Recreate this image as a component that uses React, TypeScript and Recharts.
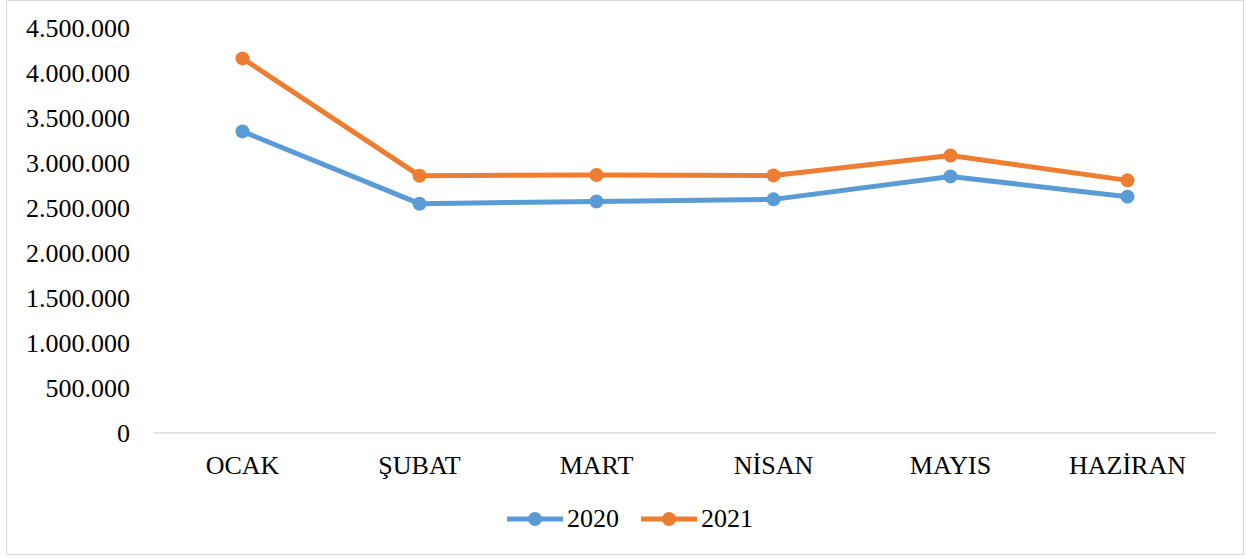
import React from "react";
import { LineChart, Line, XAxis, YAxis, Legend } from "recharts";

const months = ["OCAK", "ŞUBAT", "MART", "NİSAN", "MAYIS", "HAZİRAN"];
const values2020 = [3351000, 2548000, 2573000, 2596000, 2851000, 2626000];
const values2021 = [4162000, 2859000, 2867000, 2862000, 3084000, 2807000];
const yTicks = [0, 500000, 1000000, 1500000, 2000000, 2500000, 3000000, 3500000, 4000000, 4500000];
const seriesNames = ["2020", "2021"];
const seriesColors = ["#5B9BD5", "#ED7D31"];

const data = months.map((m, i) => ({ month: m, "2020": values2020[i], "2021": values2021[i] }));

const FONT = "'Liberation Serif', 'Times New Roman', serif";

const fmt = (v: number) => String(v).replace(/\B(?=(\d{3})+(?!\d))/g, ".");

const LegendContent = () => (
  <div style={{ display: "flex", alignItems: "center", fontFamily: FONT, fontSize: 26, color: "#000" }}>
    {seriesNames.map((n, i) => (
      <div key={n} style={{ display: "flex", alignItems: "center", marginRight: i === 0 ? 22 : 0 }}>
        <svg width={56} height={16} style={{ marginRight: 4 }}>
          <line x1={0} y1={8} x2={56} y2={8} stroke={seriesColors[i]} strokeWidth={5} strokeLinecap="round" />
          <circle cx={28} cy={8} r={7} fill={seriesColors[i]} />
        </svg>
        <span style={{ lineHeight: "26px" }}>{n}</span>
      </div>
    ))}
  </div>
);

export default function App() {
  return (
    <div style={{ position: "absolute", left: 0, top: 0, width: 1247, height: 558, background: "#fff" }}>
      <div
        style={{
          position: "absolute",
          left: 6,
          top: 0,
          width: 1238,
          height: 555,
          border: "1.5px solid #d9d9d9",
          boxSizing: "border-box",
        }}
      />
      <div style={{ position: "absolute", left: 0, top: 0 }}>
        <LineChart
          width={1247}
          height={558}
          data={data}
          margin={{ top: 28, right: 31, bottom: 0, left: 0 }}
        >
          <XAxis
            dataKey="month"
            scale="band"
            axisLine={{ stroke: "#d9d9d9", strokeWidth: 1.5 }}
            tickLine={false}
            tickMargin={17}
            height={99}
            tick={{ fill: "#000", fontFamily: FONT, fontSize: 26 }}
            interval={0}
          />
          <YAxis
            domain={[0, 4500000]}
            ticks={yTicks}
            tickFormatter={fmt}
            axisLine={false}
            tickLine={false}
            tickMargin={18}
            width={154}
            tick={{ fill: "#000", fontFamily: FONT, fontSize: 26 }}
            interval={0}
          />
          <Legend
            content={<LegendContent />}
            wrapperStyle={{ position: "absolute", left: 507, top: 506, width: "auto" }}
          />
          {seriesNames.map((n, i) => (
            <Line
              key={n}
              dataKey={n}
              stroke={seriesColors[i]}
              strokeWidth={5}
              dot={{ r: 7, fill: seriesColors[i], stroke: seriesColors[i], strokeWidth: 0 }}
              activeDot={false}
              isAnimationActive={false}
            />
          ))}
        </LineChart>
      </div>
    </div>
  );
}
